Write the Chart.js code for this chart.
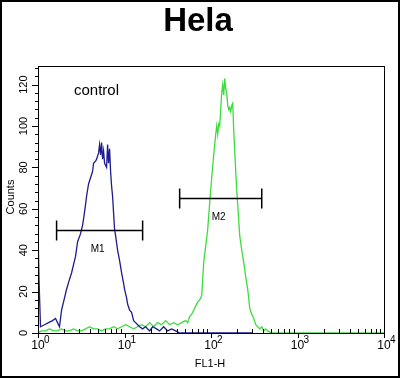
<!DOCTYPE html>
<html lang="en">
<head>
  <meta charset="UTF-8">
  <title>Hela</title>
  <script src="https://cdn.jsdelivr.net/npm/chart.js"></script>
  <style>
    body { margin: 0; background: #fff; }
  </style>
</head>
<body>
  <canvas id="histChart" width="400" height="378"></canvas>
  <script>
    // control (blue) histogram
    const controlX = [1.0, 1.027, 1.069, 1.189, 1.323, 1.472, 1.594, 1.681, 1.773, 1.871,
      2.026, 2.137, 2.315, 2.442, 2.576, 2.716, 2.866, 3.104, 3.273, 3.362, 3.546, 3.641,
      3.842, 4.052, 4.274, 4.389, 4.63, 4.755, 5.015, 5.15, 5.289, 5.433, 5.579, 5.73,
      5.885, 6.206, 6.374, 6.546, 6.723, 6.905, 7.091, 7.284, 7.479, 7.681, 7.889, 8.32,
      8.776, 9.256, 9.763, 10.03, 10.58, 10.86, 11.46, 12.08, 12.75, 13.44, 14.18, 14.95,
      16.2, 17.55, 19.53, 21.15, 23.52, 25.48, 28.34, 31.53, 35.08, 39.03, 43.42, 100, 300];
    const controlCounts = [50, 26, 3, 4, 5, 6, 7, 5, 3, 11,
      17, 21, 26, 29, 33, 37, 44, 48, 52, 55, 62, 66,
      72, 75, 78, 82, 83, 84, 87, 91, 86, 92, 84, 88,
      82, 80, 91, 82, 89, 78, 71, 66, 58, 50, 47, 40,
      35, 29, 24, 21, 17, 14, 11, 10, 6, 5, 4, 3,
      2, 3, 1, 3, 2, 1, 3, 1, 2, 1, 0, 0, 0];

    // sample (green) histogram
    const sampleX = [1.0, 1.098, 1.221, 1.359, 1.512, 1.681, 1.871, 2.081, 2.315, 2.576,
      2.866, 3.188, 3.546, 3.945, 4.389, 4.883, 5.433, 6.043, 6.723, 7.479, 8.32, 9.256,
      10.3, 11.46, 12.75, 14.18, 15.78, 17.55, 19.53, 21.72, 24.16, 26.88, 29.91, 33.27,
      37.01, 41.17, 45.81, 50.96, 53.75, 56.69, 59.79, 63.06, 66.52, 70.16, 74.0, 78.05,
      80.16, 82.32, 86.83, 91.58, 96.6, 101.9, 107.5, 113.3, 116.4, 119.5, 122.8, 126.1,
      129.5, 133.0, 136.6, 140.3, 144.1, 148.0, 152.0, 156.1, 160.3, 164.6, 169.0, 173.6,
      178.3, 183.1, 188.1, 193.2, 198.4, 203.7, 214.9, 226.7, 239.1, 252.2, 266.0, 280.5,
      295.9, 312.1, 329.2, 347.2, 366.2, 386.3, 407.4, 429.7, 453.3, 504.2, 1000, 10000];
    const sampleCounts = [0, 1, 1, 2, 1, 1, 2, 1, 1, 2,
      1, 1, 2, 3, 2, 2, 1, 2, 2, 3, 2, 3,
      4, 3, 2, 3, 4, 3, 5, 3, 5, 4, 6, 4,
      5, 4, 5, 6, 5, 8, 9, 11, 13, 15, 16, 18,
      26, 34, 42, 50, 63, 75, 86, 96, 100, 96, 101, 100,
      108, 116, 120, 115, 123, 118, 116, 110, 108, 109, 107, 110,
      111, 98, 88, 78, 69, 62, 47, 40, 34, 27, 21, 12,
      9, 7, 4, 3, 2, 3, 1, 2, 1, 0, 0, 0];

    // markers: [start, end, height]
    const markerNames = ['M1', 'M2'];
    const markerStart = [1.64, 43.4];
    const markerEnd = [16.2, 386];
    const markerLevel = [50, 65];

    const yTicks = [0, 20, 40, 60, 80, 100, 120];
    const xDecades = [1, 10, 100, 1000, 10000];
    const xExponents = ['0', '1', '2', '3', '4'];

    function toPoints(xs, ys) {
      return xs.map((x, i) => ({ x: x, y: ys[i] }));
    }

    const decorPlugin = {
      id: 'decor',
      afterDraw(chart) {
        const ctx = chart.ctx;
        const xs = chart.scales.x;
        const ys = chart.scales.y;
        const a = chart.chartArea;
        ctx.save();
        ctx.strokeStyle = '#000';
        ctx.fillStyle = '#000';

        // outer frame
        ctx.lineWidth = 2;
        ctx.strokeRect(1, 1, 398, 376);

        // plot box
        ctx.lineWidth = 1;
        ctx.strokeRect(a.left + 0.5, a.top + 0.5, a.right - a.left, a.bottom - a.top);

        // y ticks
        ctx.beginPath();
        for (let v = 0; v <= 128; v += 4) {
          const py = Math.round(ys.getPixelForValue(v)) + 0.5;
          const len = v % 20 === 0 ? 6 : 3;
          ctx.moveTo(a.left - len, py);
          ctx.lineTo(a.left, py);
        }
        // x ticks
        for (let d = 0; d < xDecades.length; d++) {
          const px = Math.round(xs.getPixelForValue(xDecades[d])) + 0.5;
          ctx.moveTo(px, a.bottom);
          ctx.lineTo(px, a.bottom + 5);
          if (d < xDecades.length - 1) {
            for (let m = 2; m <= 9; m++) {
              const mx = Math.round(xs.getPixelForValue(xDecades[d] * m)) + 0.5;
              ctx.moveTo(mx, a.bottom);
              ctx.lineTo(mx, a.bottom - 4);
            }
          }
        }
        ctx.stroke();

        // y tick labels, rotated
        ctx.font = '11px "Liberation Sans", Arial, sans-serif';
        ctx.textAlign = 'center';
        ctx.textBaseline = 'middle';
        yTicks.forEach(v => {
          const py = ys.getPixelForValue(v);
          ctx.save();
          ctx.translate(24, py);
          ctx.rotate(-Math.PI / 2);
          ctx.fillText(String(v), 0, 0);
          ctx.restore();
        });
        ctx.save();
        ctx.translate(11, 197);
        ctx.rotate(-Math.PI / 2);
        ctx.fillText('Counts', 0, 0);
        ctx.restore();

        // x tick labels with superscripts
        ctx.textBaseline = 'alphabetic';
        xDecades.forEach((v, i) => {
          const px = xs.getPixelForValue(v);
          ctx.font = '12px "Liberation Sans", Arial, sans-serif';
          ctx.textAlign = 'center';
          ctx.fillText('10', px, 349);
          ctx.font = '10px "Liberation Sans", Arial, sans-serif';
          ctx.textAlign = 'left';
          ctx.fillText(xExponents[i], px + 6, 343);
        });
        ctx.font = '11px "Liberation Sans", Arial, sans-serif';
        ctx.textAlign = 'center';
        ctx.fillText('FL1-H', 210, 367);

        // title
        ctx.font = 'bold 33px "Liberation Sans", Arial, sans-serif';
        ctx.fillText('Hela', 198, 31);

        // control label
        ctx.font = '15px "Liberation Sans", Arial, sans-serif';
        ctx.textAlign = 'left';
        ctx.fillText('control', 74, 95);

        // markers
        ctx.lineWidth = 1.5;
        ctx.font = '10px "Liberation Sans", Arial, sans-serif';
        ctx.textAlign = 'center';
        markerNames.forEach((name, i) => {
          const x1 = xs.getPixelForValue(markerStart[i]);
          const x2 = xs.getPixelForValue(markerEnd[i]);
          const py = Math.round(ys.getPixelForValue(markerLevel[i])) + 0.5;
          ctx.beginPath();
          ctx.moveTo(x1, py);
          ctx.lineTo(x2, py);
          ctx.moveTo(x1, py - 10);
          ctx.lineTo(x1, py + 10);
          ctx.moveTo(x2, py - 10);
          ctx.lineTo(x2, py + 10);
          ctx.stroke();
          ctx.fillText(name, (x1 + x2) / 2 - 2, py + 21);
        });
        ctx.restore();
      }
    };

    new Chart(document.getElementById('histChart').getContext('2d'), {
      type: 'line',
      data: {
        datasets: [{
          label: 'control',
          data: toPoints(controlX, controlCounts),
          borderColor: '#1c1c8e',
          borderWidth: 1.3,
          pointRadius: 0,
          tension: 0
        }, {
          label: 'Hela',
          data: toPoints(sampleX, sampleCounts),
          borderColor: '#3ddc3d',
          borderWidth: 1.3,
          pointRadius: 0,
          tension: 0
        }]
      },
      options: {
        responsive: false,
        animation: false,
        layout: { padding: { left: 38, right: 16, top: 66, bottom: 45 } },
        plugins: { legend: { display: false }, tooltip: { enabled: false } },
        scales: {
          x: { type: 'logarithmic', min: 1, max: 10000, display: false },
          y: { type: 'linear', min: 0, max: 129, display: false }
        }
      },
      plugins: [decorPlugin]
    });
  </script>
</body>
</html>
